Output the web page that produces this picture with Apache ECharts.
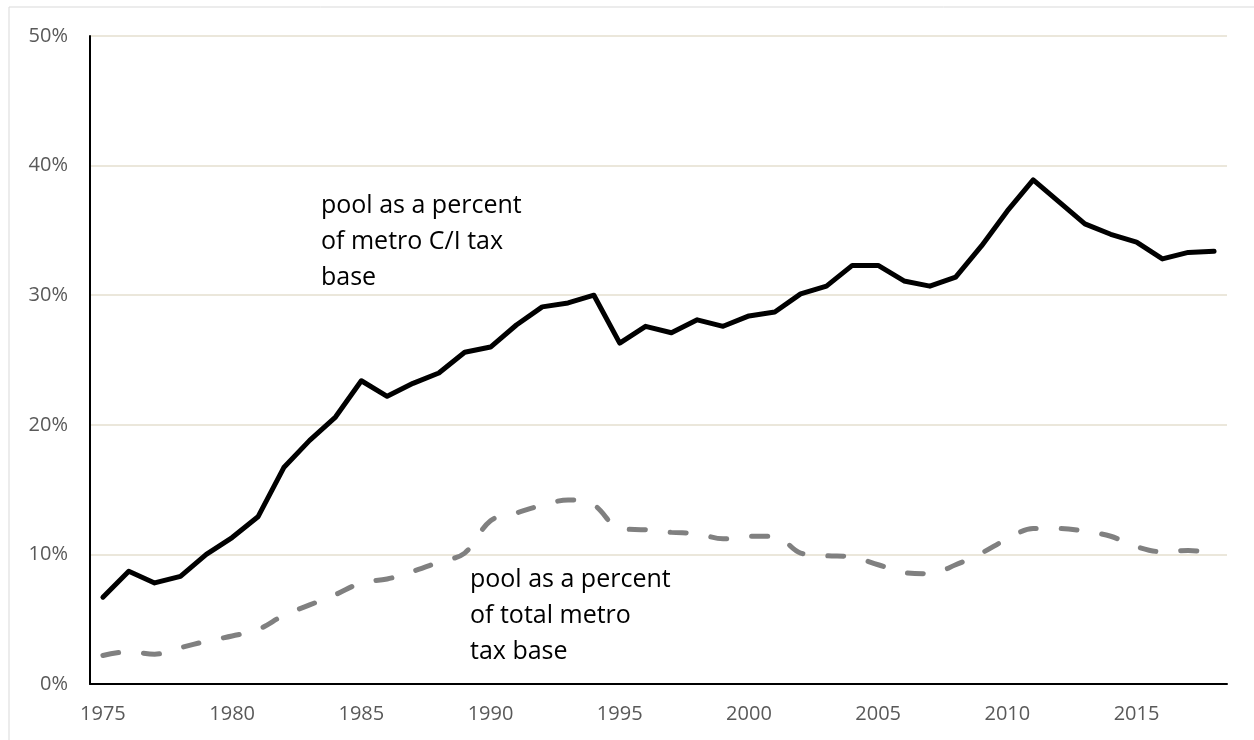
<!DOCTYPE html>
<html>
<head>
<meta charset="utf-8">
<script src="https://cdn.jsdelivr.net/npm/echarts@6/dist/echarts.min.js"></script>
<style>
html,body{margin:0;padding:0;background:#fff;}
#chart{width:1254px;height:740px;}
</style>
</head>
<body>
<div id="chart"></div>
<script>
var years = [];
for (var y = 1975; y <= 2018; y++) years.push(String(y));

var ciShare = [6.7, 8.7, 7.8, 8.3, 10.0, 11.3, 12.9, 16.7, 18.8, 20.6,
  23.4, 22.2, 23.2, 24.0, 25.6, 26.0, 27.7, 29.1, 29.4, 30.0,
  26.3, 27.6, 27.1, 28.1, 27.6, 28.4, 28.7, 30.1, 30.7, 32.3,
  32.3, 31.1, 30.7, 31.4, 33.8, 36.5, 38.9, 37.2, 35.5, 34.7,
  34.1, 32.8, 33.3, 33.4];

var totalShare = [2.2, 2.5, 2.3, 2.8, 3.3, 3.7, 4.2, 5.3, 6.1, 6.9,
  7.8, 8.1, 8.7, 9.4, 10.1, 12.6, 13.2, 13.8, 14.2, 13.8,
  12.0, 11.9, 11.7, 11.6, 11.2, 11.4, 11.4, 10.1, 9.9, 9.8,
  9.2, 8.6, 8.5, 9.2, 10.1, 11.2, 12.0, 12.0, 11.8, 11.4,
  10.6, 10.2, 10.3, 10.1];

var yTicks = [0, 10, 20, 30, 40, 50];
var labelUpper = 'pool as a percent\nof metro C/I tax\nbase';
var labelLower = 'pool as a percent\nof total metro\ntax base';

var chart = echarts.init(document.getElementById('chart'));
var FONT = 'Open Sans';
chart.setOption({
  backgroundColor: '#ffffff',
  animation: false,
  grid: {left: 90, right: 27, top: 36, bottom: 56},
  xAxis: {
    type: 'category',
    data: years,
    boundaryGap: true,
    axisLine: {lineStyle: {color: '#000000', width: 2}},
    axisTick: {show: false},
    axisLabel: {
      interval: function (i) { return i % 5 === 0; },
      color: '#595959', fontFamily: FONT, fontSize: 20, margin: 20
    },
    splitLine: {show: false}
  },
  yAxis: {
    type: 'value',
    min: yTicks[0], max: yTicks[yTicks.length - 1], interval: 10,
    axisLine: {show: true, lineStyle: {color: '#000000', width: 2}},
    axisTick: {show: false},
    axisLabel: {
      formatter: '{value}%', color: '#595959', fontFamily: FONT, fontSize: 20, margin: 22
    },
    splitLine: {lineStyle: {color: '#ebe7db', width: 2}}
  },
  series: [
    {
      name: 'C/I', type: 'line', data: ciShare, symbol: 'none',
      lineStyle: {color: '#000000', width: 5, cap: 'round', join: 'round'},
      z: 3
    },
    {
      name: 'total', type: 'line', data: totalShare, symbol: 'none', smooth: 0.35,
      lineStyle: {color: '#808080', width: 5, type: [16, 25], cap: 'round'},
      z: 2
    }
  ],
  graphic: [
    {type: 'rect', shape: {x: 9, y: 7, width: 1300, height: 800},
     style: {fill: 'none', stroke: '#d9d9d9', lineWidth: 1}, z: -1, silent: true},
    {type: 'text', left: 321, top: 188,
     style: {text: labelUpper, fill: '#000000', font: '25px "Open Sans"', lineHeight: 36}},
    {type: 'text', left: 470, top: 562,
     style: {text: labelLower, fill: '#000000', font: '25px "Open Sans"', lineHeight: 36}}
  ]
});
</script>
</body>
</html>
